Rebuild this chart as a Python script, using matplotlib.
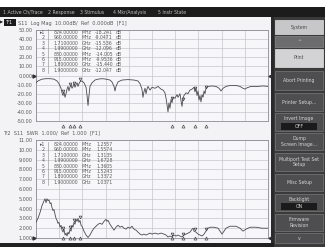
import matplotlib
matplotlib.use("Agg")
import matplotlib.pyplot as plt
import matplotlib.transforms as mtransforms
from matplotlib.patches import Rectangle
import numpy as np

W, H = 325, 247

# ---------------- data ----------------
menu_items = ["1 Active Ch/Trace", "2 Response", "3 Stimulus", "4 Mkr/Analysis", "5 Instr State"]
softkey_labels = ["System", "^", "Print", "Abort Printing", "Printer Setup...",
                  "Invert Image\nOFF", "Dump\nScreen Image...", "Multiport Test Set\nSetup",
                  "Misc Setup", "Backlight\nON", "Firmware\nRevision", "v"]

top_title = "S11  Log Mag  10.00dB/  Ref  0.000dB  [F1]"
bot_title = "Tr2  S11  SWR  1.000/  Ref  1.000  [F1]"

start_mhz, stop_mhz = 600, 2500
top_yticks = [50, 40, 30, 20, 10, 0, -10, -20, -30, -40, -50]
top_ylabels = ["50.00", "40.00", "30.00", "20.00", "10.00", "0.000",
               "-10.00", "-20.00", "-30.00", "-40.00", "-50.00"]
bot_yticks = [11, 10, 9, 8, 7, 6, 5, 4, 3, 2, 1]
bot_ylabels = ["11.00", "10.00", "9.000", "8.000", "7.000", "6.000",
               "5.000", "4.000", "3.000", "2.000", "1.000"]

marker_ids = ["1", "2", "3", "4", "5", "6", "7", "8"]
marker_mhz = [824, 960, 1710, 1990, 880, 915, 1800, 1900]
marker_freq_text = ["824.00000", "960.00000", "1.7100000", "1.9900000",
                    "880.00000", "915.00000", "1.8000000", "1.9000000"]
marker_units = ["MHz", "MHz", "GHz", "GHz", "MHz", "MHz", "GHz", "GHz"]
s11_marker_vals = ["-18.241", "-9.0471", "-15.536", "-12.096",
                   "-14.005", "-9.9536", "-15.440", "-12.047"]
swr_marker_vals = ["1.2557", "1.5574", "1.3135", "1.6728",
                   "1.3605", "1.5243", "1.3372", "1.0371"]

s11_mhz = [600, 616, 649, 682, 715, 747, 772, 788, 805, 813, 821, 829, 838, 846, 854, 862,
           870, 878, 887, 895, 903, 911, 919, 928, 936, 944, 952, 960, 977, 993, 1010, 1018,
           1026, 1034, 1042, 1059, 1083, 1108, 1141, 1173, 1206, 1222, 1239, 1247, 1255, 1272,
           1304, 1353, 1403, 1435, 1452, 1468, 1476, 1484, 1493, 1501, 1509, 1517, 1534, 1550,
           1575, 1599, 1624, 1640, 1656, 1665, 1673, 1681, 1689, 1697, 1706, 1714, 1722, 1738,
           1755, 1763, 1779, 1788, 1796, 1804, 1812, 1829, 1845, 1861, 1878, 1894, 1902, 1910,
           1919, 1927, 1935, 1943, 1951, 1960, 1968, 1976, 1984, 1992, 2009, 2041, 2074, 2099,
           2115, 2132, 2156, 2189, 2238, 2271, 2295, 2312, 2328, 2361, 2418, 2459, 2500]
s11_db = [-8, -6, -4, -3.5, -3.5, -4, -6, -9, -14, -19, -22, -18, -24, -20, -15, -12,
          -17, -13, -10, -14, -12, -9, -13, -10, -8, -12, -9, -7, -6, -8, -13, -22,
          -33, -22, -12, -8, -5, -4, -3.5, -4, -5, -7, -12, -17, -12, -7,
          -5, -4.5, -5, -6, -9, -15, -24, -18, -14, -20, -15, -12, -16, -13,
          -14, -12, -15, -16, -19, -25, -32, -40, -30, -36, -26, -30, -24, -25,
          -21, -24, -20, -28, -34, -25, -22, -19, -20, -16, -15, -13, -18, -14,
          -22, -17, -27, -22, -29, -21, -24, -17, -20, -14, -12, -11.5, -12, -14,
          -17, -14, -12, -11, -11, -12, -14, -15, -13.5, -12, -12, -11.5, -12]

swr_mhz = [600, 616, 633, 649, 666, 674, 682, 690, 698, 706, 715, 723, 731, 739, 747, 756,
           764, 772, 780, 788, 797, 805, 813, 821, 829, 838, 846, 854, 862, 870, 878, 887,
           895, 903, 911, 919, 928, 936, 944, 952, 960, 969, 977, 993, 1010, 1026, 1042, 1059,
           1075, 1092, 1108, 1124, 1141, 1157, 1173, 1181, 1190, 1206, 1222, 1239, 1255, 1272,
           1288, 1304, 1321, 1337, 1353, 1370, 1386, 1403, 1419, 1435, 1452, 1468, 1484, 1501,
           1517, 1534, 1550, 1575, 1599, 1624, 1648, 1665, 1681, 1697, 1714, 1730, 1747, 1763,
           1779, 1796, 1812, 1829, 1845, 1861, 1878, 1886, 1894, 1910, 1927, 1943, 1960, 1976,
           1992, 2009, 2025, 2058, 2091, 2107, 2123, 2140, 2156, 2189, 2238, 2271, 2295, 2320,
           2353, 2402, 2451, 2500]
swr_vals = [2.6, 3.0, 3.6, 4.3, 4.8, 5.0, 4.6, 5.0, 4.8, 4.9, 4.5, 4.6, 4.1, 3.8, 3.9, 3.4,
            3.0, 2.8, 2.5, 2.6, 2.1, 2.3, 1.8, 1.6, 1.9, 1.3, 1.5, 1.2, 1.6, 1.4, 1.9, 1.7,
            2.3, 2.1, 2.6, 2.4, 2.9, 2.7, 3.0, 2.6, 2.8, 2.3, 2.2, 1.7, 1.3, 1.05, 1.3, 1.7,
            2.0, 2.2, 2.4, 2.5, 2.4, 2.7, 2.9, 2.7, 2.8, 2.4, 2.1, 1.8, 2.1, 2.3,
            2.1, 2.2, 2.0, 1.9, 2.1, 2.0, 2.2, 1.9, 1.8, 1.6, 1.4, 1.3, 1.4, 1.3,
            1.4, 1.5, 1.4, 1.5, 1.4, 1.5, 1.4, 1.3, 1.1, 1.2, 1.1, 1.3, 1.2, 1.3,
            1.2, 1.1, 1.3, 1.4, 1.5, 1.6, 1.9, 2.0, 1.7, 1.6, 1.4, 1.3, 1.2, 1.4,
            1.7, 2.0, 2.1, 2.1, 2.0, 1.7, 1.4, 1.7, 2.0, 2.2, 2.2, 2.0, 1.7, 1.9,
            2.1, 2.1, 2.0, 2.0]

# ---------------- figure ----------------
fig = plt.figure(figsize=(W / 100, H / 100), dpi=100)
fig.patch.set_facecolor("white")
bg = fig.add_axes([0, 0, 1, 1])
bg.set_xlim(0, W)
bg.set_ylim(H, 0)
bg.axis("off")

FONT = "DejaVu Sans"
TXT = "#5a5a5a"

def rect(ax, x0, y0, x1, y1, fc, ec="none", lw=0, z=0):
    ax.add_patch(Rectangle((x0, y0), x1 - x0, y1 - y0, facecolor=fc, edgecolor=ec, lw=lw, zorder=z))

# main screen areas
rect(bg, 0, 7, W, 17.5, "#1c1c1c")
rect(bg, 0, 17.5, 271, 243, "#f3f3f6")
rect(bg, 271, 17.5, 274, 247, "#2a2a2a")
rect(bg, 274, 17.5, W, 247, "#3a3a3a")
rect(bg, 0, 243, 274, 247, "#202020")

# menu bar
menu_x = [3, 48, 80, 113, 158]
for x, t in zip(menu_x, menu_items):
    bg.text(x, 12.5, t, fontsize=3.3, color="#bdbdbd", va="center", ha="left", family=FONT)

# softkeys
key_y = [(20, 34), (36, 47), (48.5, 67), (71, 90), (93, 111), (113, 131), (133, 150),
         (153, 171), (174, 191), (194, 211), (214, 231), (233, 243)]
key_style = ["light", "mid", "light2", "dark", "dark", "dark", "dark", "dark", "dark", "dark", "dark", "dark"]
for (y0, y1), lab, st in zip(key_y, softkey_labels, key_style):
    if st == "light":
        fc, tc, ec = "#c7c7c9", "#4a4a4a", "#e0e0e0"
    elif st == "light2":
        fc, tc, ec = "#d3d3d5", "#4a4a4a", "#e6e6e6"
    elif st == "mid":
        fc, tc, ec = "#6c6c6e", "#cfcfcf", "#8a8a8a"
    else:
        fc, tc, ec = "#4e4e50", "#d4d4d4", "#7a7a7a"
    rect(bg, 275, y0, 323, y1, fc, ec, 0.5, z=1)
    yc = (y0 + y1) / 2
    if lab.endswith("\nOFF") or lab.endswith("\nON"):
        top, bot = lab.split("\n")
        bg.text(299, yc - 3.5, top, fontsize=3.3, color=tc, ha="center", va="center", family=FONT, zorder=3)
        rect(bg, 281, yc + 0.5, 317, y1 - 1.5, "#1a1a1a", z=2)
        bg.text(299, yc + 4.2, bot, fontsize=3.3, color=tc, ha="center", va="center", family=FONT, zorder=3)
    else:
        bg.text(299, yc, lab, fontsize=3.3, color=tc, ha="center", va="center", family=FONT,
                zorder=3, linespacing=1.2)

# titles
bg.text(0.3, 23, "\u25B6", fontsize=3, color="#202020", va="center", ha="left", family=FONT)
rect(bg, 3.5, 19.5, 15.5, 26.5, "#1a1a1a", z=1)
bg.text(9.5, 23, "Tr1", fontsize=3.4, color="white", va="center", ha="center", family=FONT, zorder=2)
bg.text(18, 23, top_title, fontsize=3.6, color=TXT, va="center", ha="left", family=FONT)
bg.text(3, 132.5, bot_title, fontsize=3.6, color=TXT, va="center", ha="left", family=FONT)

# ---------------- plots ----------------
def make_ax(y_top, y_bot):
    ax = fig.add_axes([36 / W, 1 - y_bot / H, 232 / W, (y_bot - y_top) / H])
    ax.set_facecolor("#f7f7fa")
    ax.set_xlim(start_mhz, stop_mhz)
    ax.set_xticks(np.linspace(start_mhz, stop_mhz, 11))
    ax.set_xticklabels([])
    ax.tick_params(length=0, pad=2.2, labelsize=3.5, labelcolor=TXT)
    ax.grid(True, color="#c6c6cc", lw=0.5)
    for s in ax.spines.values():
        s.set_color("#8c8c92")
        s.set_linewidth(0.6)
    return ax

ax1 = make_ax(30, 121)
ax1.set_ylim(-50, 50)
ax1.set_yticks(top_yticks)
ax1.set_yticklabels(top_ylabels)
ax1.plot(s11_mhz, s11_db, color="#4a4a4e", lw=0.6, zorder=3)

ax2 = make_ax(140, 238)
ax2.set_ylim(1, 11)
ax2.set_yticks(bot_yticks)
ax2.set_yticklabels(bot_ylabels)
ax2.plot(swr_mhz, swr_vals, color="#4a4a4e", lw=0.6, zorder=3)

# reference position arrows
for ax, ref in ((ax1, 0), (ax2, 1)):
    tl = mtransforms.offset_copy(ax.transData, fig=fig, x=-2, units="dots")
    ax.plot([start_mhz], [ref], marker=">", ms=2.2, color="#303030", transform=tl, clip_on=False, zorder=5)
    tr = mtransforms.offset_copy(ax.transData, fig=fig, x=2, units="dots")
    ax.plot([stop_mhz], [ref], marker="<", ms=2.2, color="#303030", transform=tr, clip_on=False, zorder=5)

# marker indicators (below the axis) and on-trace markers
below1 = mtransforms.offset_copy(ax1.transData, fig=fig, y=-5, units="dots")
ax1.plot(marker_mhz, [-50] * len(marker_mhz), linestyle="none", marker="^", ms=2.2,
         mfc="none", mec="#505050", mew=0.5, transform=below1, clip_on=False)
ax2.plot(marker_mhz, [1] * len(marker_mhz), linestyle="none", marker="^", ms=2.2,
         mfc="none", mec="#505050", mew=0.5, clip_on=False, zorder=5)
above1 = mtransforms.offset_copy(ax1.transData, fig=fig, y=3, units="dots")
ax1.plot(marker_mhz, np.interp(marker_mhz, s11_mhz, s11_db), linestyle="none", marker="v", ms=2,
         mfc="none", mec="#404040", mew=0.5, transform=above1, zorder=4)
above2 = mtransforms.offset_copy(ax2.transData, fig=fig, y=3, units="dots")
ax2.plot(marker_mhz, np.interp(marker_mhz, swr_mhz, swr_vals), linestyle="none", marker="v", ms=2,
         mfc="none", mec="#404040", mew=0.5, transform=above2, zorder=4)

# overlay for marker tables (drawn above the plot areas)
ov = fig.add_axes([0, 0, 1, 1])
ov.set_xlim(0, W)
ov.set_ylim(H, 0)
ov.axis("off")
ov.patch.set_alpha(0)

def table(y0, vals, unit_val):
    for i in range(len(marker_ids)):
        y = y0 + 5.4 * i
        kw = dict(fontsize=3.3, color=TXT, va="center", family=FONT, zorder=6)
        ov.text(45, y, ("\u25B8" if i == 0 else "") + marker_ids[i], ha="right", **kw)
        ov.text(78, y, marker_freq_text[i], ha="right", **kw)
        ov.text(82, y, marker_units[i], ha="left", **kw)
        ov.text(113, y, vals[i], ha="right", **kw)
        if unit_val:
            ov.text(116, y, unit_val, ha="left", **kw)
    ov.plot([47.5, 47.5], [y0 - 3, y0 + 5.4 * 7 + 3], color="#8a8a8a", lw=0.4, zorder=6)

table(32.5, s11_marker_vals, "dB")
table(144.5, swr_marker_vals, "")

fig.savefig("out.png", dpi=100)
